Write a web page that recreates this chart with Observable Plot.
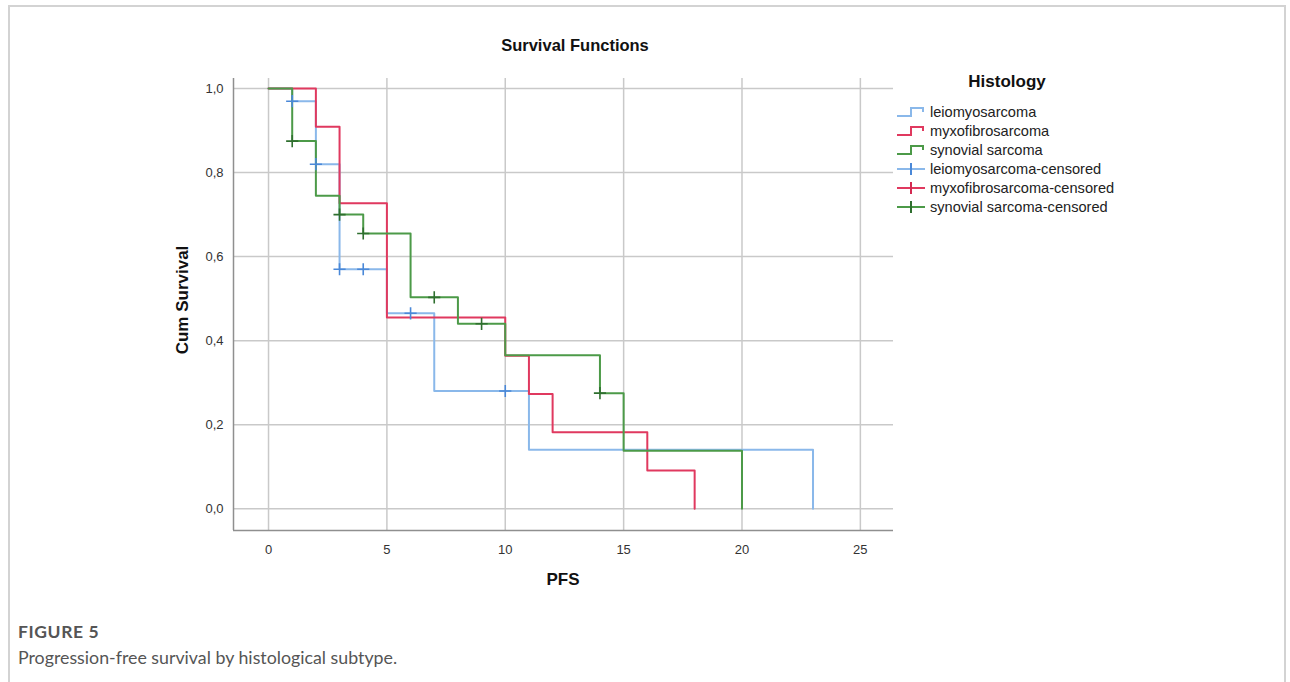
<!DOCTYPE html>
<html>
<head>
<meta charset="utf-8">
<script src="https://cdn.jsdelivr.net/npm/d3@7"></script>
<script src="https://cdn.jsdelivr.net/npm/@observablehq/plot@0.6"></script>
<style>
  html, body { margin:0; padding:0; background:#fff; width:1290px; height:682px; overflow:hidden; }
  #frame { position:absolute; left:8px; top:5px; width:1278px; height:700px; border:2px solid #d3d3d3; border-bottom:none; box-sizing:border-box; }
  #chart { position:absolute; left:0; top:0; }
  .t { position:absolute; font-family:"Liberation Sans", Arial, sans-serif; color:#111; white-space:nowrap; }
  #title { left:575px; top:36px; transform:translateX(-50%); font-size:16.5px; font-weight:bold; }
  #ylab { left:183px; top:300px; transform:translate(-50%,-50%) rotate(-90deg); font-size:17px; font-weight:bold; }
  #xlab { left:563px; top:570px; transform:translateX(-50%); font-size:17px; font-weight:bold; }
  #legend { position:absolute; left:895px; top:72px; font-family:"Liberation Sans", Arial, sans-serif; }
  #legend .hd { position:absolute; left:112px; top:0; transform:translateX(-50%); font-size:17px; font-weight:bold; color:#111; white-space:nowrap; }
  #legend .row { position:absolute; left:0; height:19px; display:flex; align-items:center; white-space:nowrap; font-size:14.6px; color:#222; }
  #legend svg { margin-right:3px; }
  .cap { position:absolute; left:18px; font-family:"Lato", "Open Sans", sans-serif; color:#555; white-space:nowrap; line-height:22px; }
  #fig { top:621px; font-size:17.5px; font-weight:bold; letter-spacing:0.6px; color:#555; }
  #sub { top:646px; font-size:17.8px; color:#555; }
</style>
</head>
<body>
<div id="frame"></div>
<div id="chart"></div>
<div class="t" id="title">Survival Functions</div>
<div class="t" id="ylab">Cum Survival</div>
<div class="t" id="xlab">PFS</div>
<div id="legend"></div>
<div class="cap" id="fig">FIGURE 5</div>
<div class="cap" id="sub">Progression-free survival by histological subtype.</div>
<script>
// ---- data ----
const seriesNames = ["leiomyosarcoma", "myxofibrosarcoma", "synovial sarcoma"];
const lineColors = ["#8ab8ea", "#e0395f", "#4c9a48"];
const censorColors = ["#4a88d8", "#d42a52", "#2f6f2f"];

const leioTime = [0, 1, 2, 3, 5, 7, 11, 23];
const leioSurv = [1, 0.97, 0.82, 0.57, 0.465, 0.28, 0.14, 0];
const leioCensTime = [1, 2, 3, 4, 6, 10];
const leioCensSurv = [0.97, 0.82, 0.57, 0.57, 0.465, 0.28];

const myxoTime = [0, 2, 3, 5, 10, 11, 12, 16, 18];
const myxoSurv = [1, 0.909, 0.727, 0.455, 0.364, 0.273, 0.182, 0.091, 0];
const myxoCensTime = [];
const myxoCensSurv = [];

const synTime = [0, 1, 2, 3, 4, 6, 8, 10, 14, 15, 20];
const synSurv = [1, 0.875, 0.745, 0.70, 0.655, 0.503, 0.44, 0.365, 0.275, 0.138, 0];
const synCensTime = [1, 3, 4, 7, 9, 14];
const synCensSurv = [0.875, 0.70, 0.655, 0.503, 0.44, 0.275];

const xTicks = [0, 5, 10, 15, 20, 25];
const yTicks = [0, 0.2, 0.4, 0.6, 0.8, 1.0];
const xDomain = [-1.48, 26.4];
const yDomain = [-0.052, 1.024];

// ---- build ----
const curves = [
  {time: leioTime, surv: leioSurv, ct: leioCensTime, cs: leioCensSurv},
  {time: myxoTime, surv: myxoSurv, ct: myxoCensTime, cs: myxoCensSurv},
  {time: synTime, surv: synSurv, ct: synCensTime, cs: synCensSurv}
];

const marks = [
  Plot.gridX(xTicks, {stroke: "#c9c9c9", strokeOpacity: 1, strokeWidth: 1.5}),
  Plot.gridY(yTicks, {stroke: "#c9c9c9", strokeOpacity: 1, strokeWidth: 1.5}),
  Plot.ruleX([xDomain[0]], {stroke: "#8f8f8f", strokeWidth: 1.5}),
  Plot.ruleY([yDomain[0]], {stroke: "#8f8f8f", strokeWidth: 1.5}),
  Plot.axisX(xTicks, {tickSize: 0, tickPadding: 14, label: null, tickFormat: d => String(d), fontSize: 13, fill: "#333"}),
  Plot.axisY(yTicks, {tickSize: 0, tickPadding: 10, label: null, tickFormat: d => d.toFixed(1).replace(".", ","), fontSize: 13, fill: "#333"})
];

curves.forEach((c, i) => {
  const pts = c.time.map((t, k) => ({t, s: c.surv[k]}));
  marks.push(Plot.line(pts, {x: "t", y: "s", curve: "step-after", stroke: lineColors[i], strokeWidth: 2}));
});
curves.forEach((c, i) => {
  const pts = c.ct.map((t, k) => ({t, s: c.cs[k]}));
  marks.push(Plot.dot(pts, {x: "t", y: "s", symbol: "plus", r: 4, stroke: censorColors[i], strokeWidth: 1.6}));
});

const chart = Plot.plot({
  width: 1290,
  height: 600,
  marginLeft: 233,
  marginRight: 397,
  marginTop: 78,
  marginBottom: 70,
  x: {domain: xDomain},
  y: {domain: yDomain},
  style: {background: "transparent", fontFamily: "'Liberation Sans', Arial, sans-serif", fontSize: "13px", color: "#333"},
  marks
});
document.getElementById("chart").appendChild(chart);

// ---- legend ----
const legend = document.getElementById("legend");
const hd = document.createElement("div");
hd.className = "hd"; hd.textContent = "Histology";
legend.appendChild(hd);
const legendItems = [
  ...seriesNames.map((n, i) => ({label: n, type: "line", color: lineColors[i]})),
  ...seriesNames.map((n, i) => ({label: n + "-censored", type: "cens", color: censorColors[i], lc: lineColors[i]}))
];
legendItems.forEach((it, k) => {
  const row = document.createElement("div");
  row.className = "row";
  row.style.top = (30 + k * 19) + "px";
  const svg = it.type === "line"
    ? `<svg width="32" height="14"><path d="M2,11 H16 V3 H28 V7" fill="none" stroke="${it.color}" stroke-width="2"/></svg>`
    : `<svg width="32" height="14"><path d="M2,7 H30" stroke="${it.lc}" stroke-width="2"/><path d="M16,1 V13" stroke="${it.color}" stroke-width="2"/></svg>`;
  row.innerHTML = svg + `<span>${it.label}</span>`;
  legend.appendChild(row);
});
</script>
</body>
</html>
